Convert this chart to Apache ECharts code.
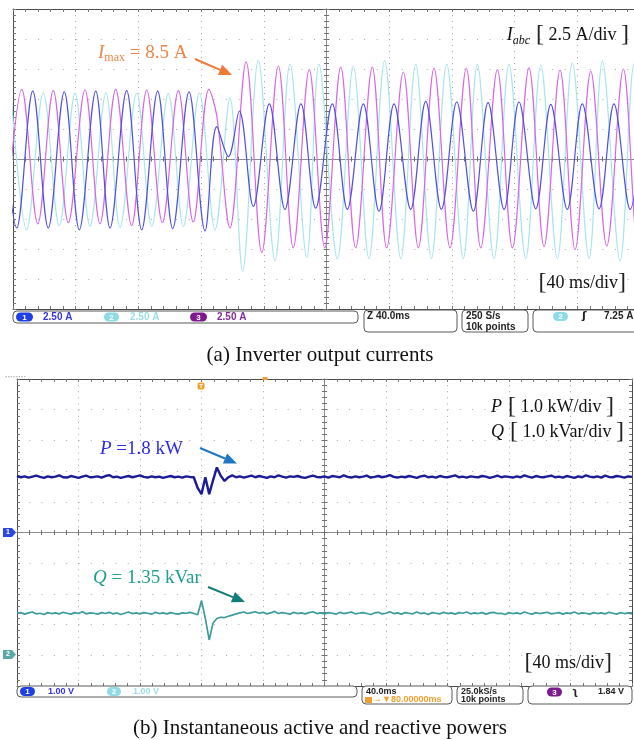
<!DOCTYPE html>
<html>
<head>
<meta charset="utf-8">
<script src="https://cdn.jsdelivr.net/npm/echarts@6.0.0/dist/echarts.min.js"></script>
<style>
html, body { margin: 0; padding: 0; background: #fff; }
#chartArea { width: 634px; height: 740px; }
</style>
</head>
<body>
<div id="chartArea"></div>
<script>
// (a) phase currents: turning points of each trace, time in ms (screen centre = 0), value in A
var magT = [-204.5, -194.4, -184.2, -174.3, -164.7, -154.1, -144.5, -134.5, -124.3, -114.7, -104.7, -94.5, -85.0, -75.0, -70.0, -61.6,
            -51.3, -41.3, -30.7, -21.2, -11.0, -1.1, 9.1, 18.6, 29.2, 38.4, 49.0, 58.6, 68.6, 78.8, 89.2, 98.4, 109.0, 118.6,
            129.2, 138.8, 149.0, 158.6, 168.6, 178.8, 189.4, 198.8, 209];
var magV = [-5.5, 5.8, -5.4, 5.7, -5.3, 5.75, -5.4, 5.8, -5.55, 5.75, -5.3, 5.7, -5.25, 5.8, 3.6, -5.75,
            8.1, -7.8, 7.75, -7.4, 7.45, -7.4, 7.65, -7.4, 7.65, -7.4, 7.25, -7.4, 7.55, -7.4, 7.55, -7.4, 7.45, -7.4,
            7.6, -7.3, 7.4, -7.55, 7.3, -7.25, 7.5, -7.4, 7.5];

var cyanT = [-201.3, -191.3, -180.7, -170.5, -160.4, -150.9, -140.7, -131.7, -121.1, -111.5, -100.9, -91.3, -81.1, -71.1,
             -61.6, -53.5, -43.5, -32.8, -23.3, -12.6, -4.8, 6.9, 17.1, 27.1, 37.1, 47.4, 56.9, 66.9, 76.7, 87.3, 96.2,
             106.9, 116.4, 127.1, 136.7, 147.3, 156.8, 167.5, 176.0, 187.3, 196.2, 206.4];
var cyanV = [5.5, -5.9, 5.5, -5.55, 5.45, -5.6, 5.5, -5.7, 5.5, -5.6, 5.45, -5.6, 5.5, -5.9,
             5.1, -9.35, 8.25, -8.5, 7.9, -8.2, 7.9, -8.3, 7.75, -8.3, 8.2, -8.3, 7.9, -8.3, 7.9, -8.3, 7.9,
             -8.3, 7.9, -8.3, 7.8, -8.3, 8.0, -8.3, 8.15, -8.5, 7.9, -8.3];

var blueT = [-207.7, -197.6, -187.4, -177.5, -167.3, -157.7, -147.2, -138.1, -127.5, -117.9, -107.7, -98.1, -87.7, -77.5,
             -70.0, -62.6, -55.6, -46.7, -36.5, -26.5, -16.3, -6.9, 3.7, 13.3, 23.5, 33.5, 43.1, 53.7, 63.3, 73.3, 83.1,
             93.7, 103.1, 113.3, 122.8, 133.5, 143.1, 153.6, 163.2, 173.9, 183.4, 193.7, 203.2];
var blueV = [5.65, -5.75, 5.65, -5.75, 5.6, -5.9, 5.65, -5.75, 5.7, -5.9, 5.65, -5.8, 5.6, -6.0,
             2.7, 0.2, 4.0, -3.95, 4.6, -4.2, 4.6, -4.1, 4.6, -4.2, 4.6, -4.35, 4.6, -4.2, 4.8, -4.2, 4.75,
             -4.35, 4.7, -4.2, 4.75, -4.15, 4.55, -4.2, 4.6, -4.15, 4.6, -4.2, 4.6];

// (b) powers, one sample every 2.5 ms from -200 ms
var sampleStep = 2.5;
var pVals = [1.84,1.80,1.83,1.79,1.82,1.85,1.81,1.78,1.83,1.80,
             1.82,1.86,1.80,1.79,1.84,1.81,1.78,1.82,1.85,1.80,
             1.81,1.83,1.79,1.84,1.87,1.80,1.82,1.78,1.81,1.84,
             1.80,1.83,1.86,1.81,1.79,1.83,1.80,1.82,1.78,1.81,
             1.84,1.80,1.82,1.79,1.83,1.81,
             1.80,1.45,1.25,1.80,1.25,1.70,2.12,1.85,1.68,1.80,1.86,1.80,
             1.83,1.79,1.82,1.85,1.80,1.84,1.81,1.78,1.83,1.80,1.86,1.82,
             1.79,1.83,1.81,1.84,1.80,1.78,1.82,1.85,1.81,1.80,
             1.83,1.79,1.84,1.82,1.80,1.86,1.81,1.79,1.83,1.80,
             1.82,1.85,1.79,1.81,1.84,1.80,1.83,1.87,1.81,1.79,
             1.82,1.80,1.84,1.81,1.78,1.83,1.85,1.80,1.82,1.79,
             1.84,1.81,1.80,1.83,1.86,1.80,1.82,1.79,1.83,1.81,
             1.80,1.84,1.82,1.78,1.81,1.85,1.80,1.83,1.81,1.79,
             1.83,1.80,1.86,1.82,1.79,1.84,1.81,1.80,1.83,1.85,
             1.80,1.82,1.79,1.84,1.81,1.78,1.83,1.80,1.86,1.82,
             1.80,1.83,1.79,1.85,1.81,1.80,1.84,1.82,1.79,1.83,1.81];
var qVals = [1.36,1.39,1.34,1.38,1.41,1.35,1.37,1.33,1.39,1.36,
             1.38,1.35,1.40,1.37,1.34,1.39,1.36,1.42,1.35,1.38,
             1.37,1.34,1.39,1.36,1.40,1.35,1.38,1.33,1.37,1.41,
             1.36,1.38,1.35,1.39,1.37,1.34,1.40,1.36,1.38,1.35,
             1.39,1.36,1.34,1.38,1.37,1.40,
             1.36,1.32,1.78,1.20,0.50,1.05,1.20,1.24,1.23,1.27,1.31,1.35,
             1.38,1.41,1.36,1.39,1.42,1.37,1.40,1.35,1.38,1.43,1.36,1.39,
             1.37,1.34,1.40,1.36,1.38,1.35,1.39,1.42,1.36,1.38,
             1.35,1.39,1.37,1.34,1.40,1.36,1.38,1.41,1.35,1.37,
             1.39,1.36,1.33,1.38,1.40,1.35,1.37,1.42,1.36,1.38,
             1.34,1.39,1.37,1.35,1.41,1.36,1.38,1.33,1.39,1.37,
             1.35,1.40,1.36,1.38,1.34,1.39,1.37,1.41,1.35,1.38,
             1.36,1.39,1.34,1.38,1.40,1.36,1.37,1.33,1.39,1.36,
             1.38,1.35,1.41,1.37,1.34,1.39,1.36,1.38,1.40,1.35,
             1.37,1.39,1.34,1.38,1.36,1.41,1.35,1.38,1.37,1.34,
             1.39,1.36,1.38,1.35,1.40,1.37,1.34,1.39,1.36,1.38,1.35];

var SERIF = '"Liberation Serif", "Times New Roman", serif';
var SANS = '"Liberation Sans", Arial, sans-serif';

function pairs(ts, vs) {
    var out = [];
    for (var i = 0; i < ts.length; i++) out.push([ts[i], vs[i]]);
    return out;
}
function sampled(vs) {
    var out = [];
    for (var i = 0; i < vs.length; i++) out.push([-200 + i * sampleStep, vs[i]]);
    return out;
}

// scope graticule: border axes carry the ticks + dotted grid, centre axes sit on zero
function borderAxis(grid, pos, min, max, interval, dots) {
    return {
        type: 'value', gridIndex: grid, position: pos, min: min, max: max, interval: interval, silent: true,
        axisLine: { show: true, onZero: false, lineStyle: { color: '#4a4a4a', width: 1 } },
        axisTick: { show: true, inside: true, length: 3, lineStyle: { color: '#777' } },
        minorTick: { show: true, splitNumber: 5, length: 3, lineStyle: { color: '#777' } },
        axisLabel: { show: false },
        splitLine: dots ? { show: true, lineStyle: { color: '#a8a8a8', width: 1, type: dots } } : { show: false }
    };
}
function centerAxis(grid, pos, min, max, interval) {
    return {
        type: 'value', gridIndex: grid, position: pos, min: min, max: max, interval: interval, silent: true,
        axisLine: { show: true, onZero: true, lineStyle: { color: '#8c8c8c', width: 1 } },
        axisTick: { show: true, inside: true, length: 3, lineStyle: { color: '#707070' } },
        minorTick: { show: true, splitNumber: 5, length: 2.5, lineStyle: { color: '#707070' } },
        axisLabel: { show: false },
        splitLine: { show: false }
    };
}

function txt(x, y, text, opts) {
    var st = { x: x, y: y, text: text, fill: opts.fill || '#111',
        font: opts.font || ('18px ' + SERIF),
        align: opts.align || 'left', textAlign: opts.align || 'left',
        verticalAlign: 'middle', textVerticalAlign: 'middle' };
    if (opts.rich) st.rich = opts.rich;
    return { type: 'text', z: 100, style: st };
}
function box(x, y, w, h) {
    return { type: 'rect', z: 90, shape: { x: x, y: y, width: w, height: h, r: 4 },
             style: { fill: '#fff', stroke: '#5a5a5a', lineWidth: 1 } };
}
function pill(x, y, w, color, label) {
    return [
        { type: 'rect', z: 95, shape: { x: x, y: y, width: w, height: 9, r: 4.5 }, style: { fill: color } },
        txt(x + w / 2, y + 4.8, label, { fill: '#fff', font: 'bold 8px ' + SANS, align: 'center' })
    ];
}
function arrow(x1, y1, x2, y2, color) {
    var dx = x2 - x1, dy = y2 - y1, len = Math.sqrt(dx * dx + dy * dy);
    var ux = dx / len, uy = dy / len, head = 13, half = 5.5;
    var bx = x2 - ux * head, by = y2 - uy * head;
    return [
        { type: 'line', z: 100, shape: { x1: x1, y1: y1, x2: bx, y2: by }, style: { stroke: color, lineWidth: 2 } },
        { type: 'polygon', z: 100, shape: { points: [[x2, y2], [bx - uy * half, by + ux * half], [bx + uy * half, by - ux * half]] },
          style: { fill: color } }
    ];
}
function richLabel(size) {
    return {
        i: { fontFamily: SERIF, fontStyle: 'italic', fontSize: size, lineHeight: 24, fill: '#111' },
        s: { fontFamily: SERIF, fontStyle: 'italic', fontSize: 12, lineHeight: 13, verticalAlign: 'bottom', fill: '#111' },
        b: { fontFamily: SERIF, fontSize: 24, lineHeight: 24, fill: '#222' },
        n: { fontFamily: SERIF, fontSize: size, lineHeight: 24, fill: '#111' }
    };
}

var g = [];
// (a) annotations
g.push(txt(629, 35, '{i|I}{s|abc}{b| [}{n| 2.5 A/div }{b|]}', { align: 'right', rich: richLabel(18) }));
g.push(txt(98, 53, '{i|I}{s|max}{n| = 8.5 A}', { rich: {
    i: { fontFamily: SERIF, fontStyle: 'italic', fontSize: 19, lineHeight: 22, fill: '#ef8446' },
    s: { fontFamily: SERIF, fontSize: 12, lineHeight: 10, verticalAlign: 'bottom', fill: '#ef8446' },
    n: { fontFamily: SERIF, fontSize: 19, lineHeight: 22, fill: '#ef8446' } } }));
g = g.concat(arrow(195, 59, 232, 75, '#ee7a35'));
g.push(txt(626, 283, '{b|[}{n|40 ms/div}{b|]}', { align: 'right', rich: richLabel(18) }));

// (a) status bar
g.push(box(13, 311, 345, 12));
g = g.concat(pill(16, 312.5, 17, '#1f3fe6', '1'));
g.push(txt(43, 317.5, '2.50 A', { fill: '#3535e0', font: 'bold 10px ' + SANS }));
g = g.concat(pill(104, 312.5, 15, '#8edbe6', '2'));
g.push(txt(130, 317.5, '2.50 A', { fill: '#9cdfe8', font: 'bold 10px ' + SANS }));
g = g.concat(pill(190, 312.5, 17, '#7c1a8e', '3'));
g.push(txt(217, 317.5, '2.50 A', { fill: '#862a9e', font: 'bold 10px ' + SANS }));
g.push(box(364, 310, 93, 22));
g.push(txt(367, 316.5, 'Z 40.0ms', { fill: '#222', font: 'bold 10px ' + SANS }));
g.push(box(462, 310, 66, 22));
g.push(txt(466, 316.5, '250 S/s', { fill: '#222', font: 'bold 10px ' + SANS }));
g.push(txt(466, 327, '10k points', { fill: '#222', font: 'bold 10px ' + SANS }));
g.push(box(533, 310, 112, 22));
g = g.concat(pill(553, 312, 15, '#8edbe6', '2'));
g.push(txt(582, 316.5, '\u0283', { fill: '#222', font: 'bold 11px "DejaVu Sans"' }));
g.push(txt(604, 316.5, '7.25 A', { fill: '#222', font: 'bold 10px ' + SANS }));

g.push(txt(320, 355, '(a) Inverter output currents', { align: 'center', font: '21px ' + SERIF, fill: '#111' }));

// (b) markers on the frame
g.push(txt(5, 377, '\u00b7\u00b7\u00b7\u00b7\u00b7\u00b7\u00b7\u00b7', { fill: '#aaa', font: 'bold 8px ' + SANS }));
g.push({ type: 'rect', z: 95, shape: { x: 197.5, y: 382.5, width: 7, height: 7, r: 2 }, style: { fill: '#f0a030' } });
g.push(txt(201, 386, 'T', { fill: '#fff', font: 'bold 6px ' + SANS, align: 'center' }));
g.push({ type: 'rect', z: 95, shape: { x: 262.5, y: 377, width: 5, height: 3 }, style: { fill: '#f0a030' } });
g.push({ type: 'polygon', z: 95, shape: { points: [[3, 528], [12, 528], [16, 532.5], [12, 537], [3, 537]] }, style: { fill: '#2a48e0' } });
g.push(txt(8, 532.5, '1', { fill: '#fff', font: 'bold 7px ' + SANS, align: 'center' }));
g.push({ type: 'polygon', z: 95, shape: { points: [[3, 650], [12, 650], [16, 654.5], [12, 659], [3, 659]] }, style: { fill: '#5aa8a8' } });
g.push(txt(8, 654.5, '2', { fill: '#fff', font: 'bold 7px ' + SANS, align: 'center' }));

// (b) annotations
g.push(txt(491, 407, '{i|P}{b| [}{n| 1.0 kW/div }{b|]}', { rich: richLabel(18) }));
g.push(txt(491, 432, '{i|Q}{b| [}{n| 1.0 kVar/div }{b|]}', { rich: richLabel(18) }));
g.push(txt(100, 449, '{i|P}{n| =1.8 kW}', { rich: {
    i: { fontFamily: SERIF, fontStyle: 'italic', fontSize: 19, fill: '#2a2ae6' },
    n: { fontFamily: SERIF, fontSize: 19, fill: '#2a2ae6' } } }));
g = g.concat(arrow(200, 448, 237, 463.5, '#1f78c4'));
g.push(txt(93, 578, '{i|Q}{n| = 1.35 kVar}', { rich: {
    i: { fontFamily: SERIF, fontStyle: 'italic', fontSize: 19, fill: '#1f9e8e' },
    n: { fontFamily: SERIF, fontSize: 19, fill: '#1f9e8e' } } }));
g = g.concat(arrow(208, 587, 245, 602, '#127c78'));
g.push(txt(612, 663, '{b|[}{n|40 ms/div}{b|]}', { align: 'right', rich: richLabel(18) }));

// (b) status bar
g.push(box(17, 686, 340, 11));
g = g.concat(pill(20, 687, 15, '#1f3fe6', '1'));
g.push(txt(48, 692, '1.00 V', { fill: '#3535e0', font: 'bold 9px ' + SANS }));
g = g.concat(pill(107, 687, 14, '#8edbe6', '2'));
g.push(txt(133, 692, '1.00 V', { fill: '#9cdfe8', font: 'bold 9px ' + SANS }));
g.push(box(362, 686, 90, 18));
g.push(txt(366, 691.5, '40.0ms', { fill: '#222', font: 'bold 9px ' + SANS }));
g.push({ type: 'rect', z: 95, shape: { x: 365, y: 697, width: 7, height: 6 }, style: { fill: '#f0a030' } });
g.push(txt(373, 700, '\u2192\u25bc80.00000ms', { fill: '#f0a030', font: 'bold 9px ' + SANS }));
g.push(box(457, 686, 66, 18));
g.push(txt(461, 691.5, '25.0kS/s', { fill: '#222', font: 'bold 9px ' + SANS }));
g.push(txt(461, 700, '10k points', { fill: '#222', font: 'bold 9px ' + SANS }));
g.push(box(528, 686, 104, 18));
g = g.concat(pill(547, 687.5, 15, '#7c1a8e', '3'));
g.push(txt(572, 692, '\u0285', { fill: '#222', font: 'bold 10px "DejaVu Sans"' }));
g.push(txt(598, 692, '1.84 V', { fill: '#222', font: 'bold 9px ' + SANS }));

g.push(txt(320, 728, '(b) Instantaneous active and reactive powers', { align: 'center', font: '21px ' + SERIF, fill: '#111' }));

var chartDom = document.getElementById('chartArea');
var myChart = echarts.init(chartDom);
var option;

option = {
    animation: false,
    backgroundColor: '#fff',
    grid: [
        { left: 13, top: 9, width: 627, height: 300, outerBoundsMode: 'none' },
        { left: 17, top: 379, width: 615, height: 307, outerBoundsMode: 'none' }
    ],
    xAxis: [
        borderAxis(0, 'bottom', -200, 200, 40, [1, 5]),
        borderAxis(0, 'top', -200, 200, 40),
        centerAxis(0, 'bottom', -200, 200, 40),
        centerAxis(0, 'top', -200, 200, 40),
        borderAxis(1, 'bottom', -200, 200, 40, [1, 5.14]),
        borderAxis(1, 'top', -200, 200, 40),
        centerAxis(1, 'bottom', -200, 200, 40),
        centerAxis(1, 'top', -200, 200, 40)
    ],
    yAxis: [
        borderAxis(0, 'left', -12.5, 12.5, 2.5, [1, 11.54]),
        borderAxis(0, 'right', -12.5, 12.5, 2.5),
        centerAxis(0, 'left', -12.5, 12.5, 2.5),
        centerAxis(0, 'right', -12.5, 12.5, 2.5),
        borderAxis(1, 'left', -5, 5, 1, [1, 11.3]),
        borderAxis(1, 'right', -5, 5, 1),
        centerAxis(1, 'left', -5, 5, 1),
        centerAxis(1, 'right', -5, 5, 1),
        { type: 'value', gridIndex: 1, show: false, min: -1, max: 9, interval: 1, splitLine: { show: false } }
    ],
    series: [
        { name: 'Ib', type: 'line', xAxisIndex: 0, yAxisIndex: 0, data: pairs(cyanT, cyanV), smooth: 0.35,
          showSymbol: false, silent: true, lineStyle: { color: '#a8e6ec', width: 1.2 } },
        { name: 'Ic', type: 'line', xAxisIndex: 0, yAxisIndex: 0, data: pairs(magT, magV), smooth: 0.35,
          showSymbol: false, silent: true, lineStyle: { color: '#d866e8', width: 1.2 } },
        { name: 'Ia', type: 'line', xAxisIndex: 0, yAxisIndex: 0, data: pairs(blueT, blueV), smooth: 0.35,
          showSymbol: false, silent: true, lineStyle: { color: '#5050e4', width: 1.2 } },
        { name: 'P', type: 'line', xAxisIndex: 4, yAxisIndex: 4, data: sampled(pVals),
          showSymbol: false, silent: true, lineStyle: { color: '#1c1c98', width: 2.4 } },
        { name: 'Q', type: 'line', xAxisIndex: 4, yAxisIndex: 8, data: sampled(qVals),
          showSymbol: false, silent: true, lineStyle: { color: '#3c9c9c', width: 1.7 } }
    ],
    graphic: { elements: g }
};

option && myChart.setOption(option);
</script>
</body>
</html>
